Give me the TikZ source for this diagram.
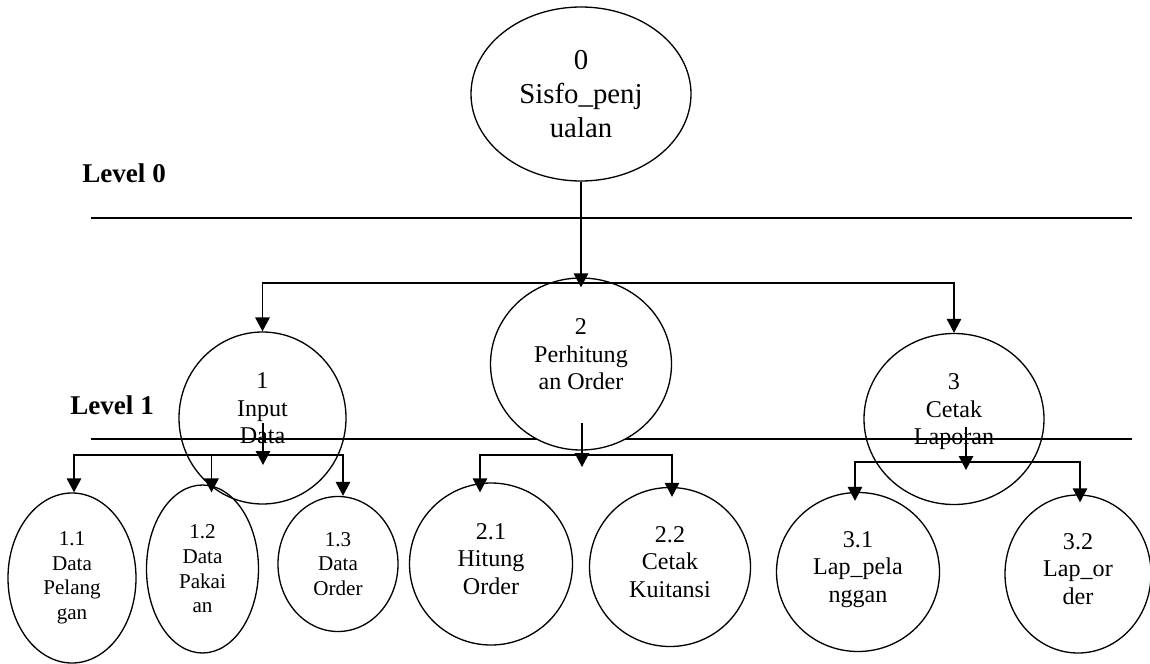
\documentclass[tikz,border=0pt]{standalone}
\usepackage{fontspec}
\setmainfont{Liberation Serif}
\usetikzlibrary{arrows.meta, shapes.geometric}

\begin{document}
\begin{tikzpicture}[
			proc/.style={ellipse, draw, line width=0.75pt, inner sep=0pt, align=center},
			big/.style={font=\fontsize{16.4}{19.3}\selectfont},
			mid/.style={font=\fontsize{13.7}{15.6}\selectfont, text depth=6pt},
			small/.style={font=\fontsize{12}{14}\selectfont},
			flow/.style={-{Triangle[length=0.28cm, width=0.29cm]}, line width=0.8pt},
			levelline/.style={line width=0.8pt},
			leveltext/.style={font=\fontsize{15.4}{18}\selectfont\bfseries, anchor=west, inner sep=0pt}
			]
			\useasboundingbox (0,0) rectangle (23,-13.28);
			
			% --- GARIS LEVEL ---
			\node[leveltext] (lv0) at (1.64,-3.46) {Level 0};
			\node[leveltext] (lv1) at (1.40,-8.10) {Level 1};
			\coordinate (l0a) at (1.82,-4.36);
			\coordinate (l0b) at (22.64,-4.36);
			\coordinate (l1a) at (1.82,-8.78);
			\coordinate (l1b) at (22.64,-8.78);
			\draw[levelline] (l0a) -- (l0b);
			\draw[levelline] (l1a) -- (l1b);
			
			% --- PROSES LEVEL 0 ---
			\node[proc, big, minimum width=4.4cm, minimum height=3.48cm] (p0) at (11.62,-1.88) {0\\Sisfo\_penj\\ualan};
			
			% --- PROSES LEVEL 1 ---
			\node[proc, mid, text depth=11pt, minimum width=3.34cm, minimum height=3.44cm] (p1) at (5.25,-8.36) {1\\Input\\Data};
			\node[proc, mid, text depth=11pt, fill=white, minimum width=3.62cm, minimum height=3.44cm] (p2) at (11.62,-7.28) {2\\Perhitung\\an Order};
			\node[proc, mid, text depth=11pt, minimum width=3.6cm, minimum height=3.42cm] (p3) at (19.08,-8.38) {3\\Cetak\\Laporan};
			
			% --- PROSES LEVEL 2 ---
			\node[proc, small, minimum width=2.56cm, minimum height=3.4cm] (p11) at (1.44,-11.56) {1.1\\Data\\Pelang\\gan};
			\node[proc, small, minimum width=2.24cm, minimum height=3.36cm] (p12) at (4.05,-11.38) {1.2\\Data\\Pakai\\an};
			\node[proc, small, minimum width=2.4cm, minimum height=2.7cm] (p13) at (6.76,-11.28) {1.3\\Data\\Order};
			\node[proc, mid, minimum width=3.26cm, minimum height=3.24cm] (p21) at (9.82,-11.28) {2.1\\Hitung\\Order};
			\node[proc, mid, minimum width=3.22cm, minimum height=3.18cm] (p22) at (13.40,-11.34) {2.2\\Cetak\\Kuitansi};
			\node[proc, mid, minimum width=3.26cm, minimum height=3.18cm] (p31) at (17.16,-11.44) {3.1\\Lap\_pela\\nggan};
			\node[proc, mid, minimum width=2.92cm, minimum height=3.16cm] (p32) at (21.56,-11.48) {3.2\\Lap\_or\\der};
			
			% Percabangan
			\coordinate (b0) at (11.62,-5.66);
			\coordinate (s1) at (5.26,-8.46);
			\coordinate (b1) at (5.26,-9.10);
			\coordinate (s2) at (11.64,-8.46);
			\coordinate (b2) at (11.64,-9.10);
			\coordinate (s3) at (19.32,-8.54);
			\coordinate (b3) at (19.32,-9.24);
			
			% Alur level 0 -> 1
			\draw[flow] (p0.south) -- ([yshift=-0.2cm]p2.north);
			\draw[flow] (b0) -| (p1.north);
			\draw[flow] (b0) -| (p3.north);
			
			% Alur level 1 -> 2
			\draw[flow] (s1) -- ([yshift=-0.2cm]b1);
			\draw[flow] (s2) -- ([yshift=-0.24cm]b2);
			\draw[flow] (s3) -- ([yshift=-0.16cm]b3);
			
			\foreach \c/\dx/\dy in {p11/0.04/0, p12/0.18/-0.16, p13/0.1/0}
			\draw[flow] (b1) -| ([xshift=\dx cm, yshift=\dy cm]\c.north);
			
			\foreach \c/\dx/\dy in {p21/-0.22/-0.2, p22/0.04/-0.2}
			\draw[flow] (b2) -| ([xshift=\dx cm, yshift=\dy cm]\c.north);
			
			\foreach \c/\dx/\dy in {p31/-0.06/-0.18, p32/0.04/-0.16}
			\draw[flow] (b3) -| ([xshift=\dx cm, yshift=\dy cm]\c.north);
			
		\end{tikzpicture}
\end{document}
